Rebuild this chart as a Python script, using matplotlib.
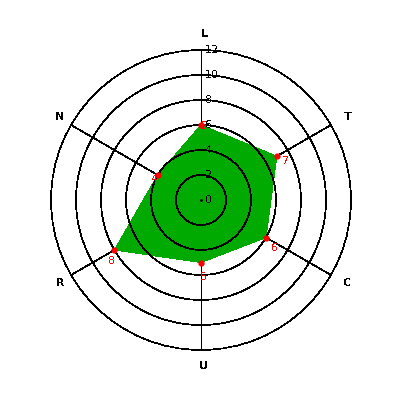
import numpy as np
import matplotlib
matplotlib.use("Agg")
import matplotlib.pyplot as plt

categories = ["L", "T", "C", "U", "R", "N"]
values = [6, 7, 6, 5, 8, 4]
rticks = [0, 2, 4, 6, 8, 10, 12]
rmax = 12

plt.rcParams['font.family'] = 'DejaVu Sans'
plt.rcParams['text.antialiased'] = False

fig = plt.figure(figsize=(4, 4), dpi=100)
ax = fig.add_axes([0.1275, 0.125, 0.75, 0.75], projection='polar')
ax.set_theta_zero_location('N')
ax.set_theta_direction(-1)
ax.set_ylim(0, rmax)

angles = np.linspace(0, 2 * np.pi, len(categories), endpoint=False)
LW = 0.5

# grid: circles drawn above the fill, spokes below it
ax.xaxis.grid(False)
ax.yaxis.grid(False)
ax.set_xticks([])
ax.set_yticks([])
ax.spines['polar'].set_linewidth(LW)
ax.spines['polar'].set_antialiased(False)

t = np.linspace(0, 2 * np.pi, 361)
for r in rticks[1:-1]:
    ax.plot(t, np.full_like(t, r), color='black', lw=LW, zorder=3,
            antialiased=False)

for a in angles:
    ax.plot([a, a], [0, rmax], color='black', lw=LW, zorder=1,
            antialiased=False)

ang_closed = np.append(angles, angles[0])
val_closed = np.append(values, values[0])
ax.fill(ang_closed, val_closed, color='#00aa00', lw=0, zorder=2,
        antialiased=False)

ax.plot(angles, values, 'o', color='red', ms=3.5, mec='red', zorder=4)
ax.plot(0, 0, 'o', color='black', ms=1.0, zorder=5)

for r in rticks:
    ax.annotate(str(r), xy=(0, r), xytext=(4, 0), textcoords='offset pixels',
                ha='left', va='center', fontsize=8, color='black', zorder=6)

for a, v in zip(angles, values):
    dx = np.sin(a)
    dy = -np.cos(a)  # screen direction, down positive
    ox = 6.5 * dx + 3
    oy = -(6.5 * dy + 7.5)
    ax.annotate(str(v), xy=(a, v), xytext=(ox, oy), textcoords='offset pixels',
                ha='center', va='center', fontsize=8, color='red', zorder=7)

for a, c in zip(angles, categories):
    ax.annotate(c, xy=(a, 13.3), xytext=(3, 0), textcoords='offset pixels',
                ha='center', va='center', fontsize=8, fontweight='bold',
                color='black', annotation_clip=False)

fig.savefig("out.png", dpi=100)
